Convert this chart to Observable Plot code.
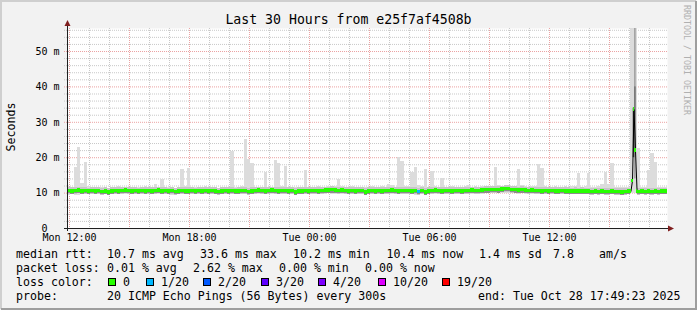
<!DOCTYPE html>
<html><head><meta charset="utf-8">
<script src="https://cdn.jsdelivr.net/npm/d3@7"></script>
<script src="https://cdn.jsdelivr.net/npm/@observablehq/plot@0.6"></script>
<style>html,body{margin:0;padding:0;background:#f2f2f2;} svg{display:block}</style>
</head><body><div id="chart"></div>
<script>
const title = "Last 30 Hours from e25f7af4508b";
const startHour = 11.9;      // Mon 11:54, hours since Mon 00:00
const endHour = 41.9;        // Tue 17:54
const stepMinutes = 10;

// median rtt (ms), one value per 10 minutes, one row per hour
const medianMs = [
  10.6,10.5,10.6,10.7,10.5,10.6,
  10.4,10.6,10.5,10.6,10.3,10.5,
  10.2,10.5,10.6,10.5,10.6,10.7,
  10.6,10.5,10.6,10.4,10.6,10.5,
  10.6,10.5,10.6,10.7,10.5,10.6,
  10.4,10.6,10.3,10.5,10.6,10.5,
  10.5,10.6,10.4,10.6,10.5,10.6,
  10.5,10.6,10.5,10.3,10.5,10.6,
  10.5,10.6,10.4,10.5,10.6,10.6,
  10.3,10.5,10.6,10.7,10.6,10.5,
  10.6,10.7,10.6,10.5,10.6,10.6,
  10.5,10.6,10.2,10.5,10.5,10.6,
  10.5,10.6,10.6,10.5,10.6,10.7,
  10.7,10.8,10.7,10.6,10.7,10.6,
  10.5,10.6,10.5,10.6,10.6,10.2,
  10.5,10.6,10.5,10.6,10.5,10.6,
  10.6,10.7,10.6,10.5,10.6,10.6,
  10.6,10.5,10.6,10.3,10.6,10.2,
  10.5,10.6,10.7,10.6,10.5,10.6,
  10.6,10.5,10.6,10.6,10.5,10.6,
  10.6,10.7,10.6,10.6,10.7,10.8,
  10.8,10.9,10.9,10.8,11.0,11.2,
  11.2,10.9,10.8,10.7,10.8,10.7,
  10.6,10.7,10.6,10.6,10.5,10.6,
  10.5,10.6,10.5,10.5,10.6,10.5,
  10.5,10.4,10.5,10.4,10.5,10.4,
  10.4,10.3,10.4,10.3,10.4,10.3,
  10.3,10.4,10.3,10.3,10.2,10.3,
  10.4,null,null,10.3,10.4,10.3,
  10.4,10.3,10.4,10.3,10.4,10.4
];
// highest ping of each 10-minute slot (ms)
const smokeMaxMs = [
  11.5,11.6,17.2,22.9,12.7,18.6,
  11.8,11.5,11.6,11.4,11.7,11.5,
  11.4,11.6,11.5,11.8,11.5,11.6,
  11.5,11.7,11.4,11.6,11.5,11.9,
  11.6,11.5,12.3,11.7,13.8,11.6,
  11.5,11.7,11.4,11.6,16.7,11.8,
  17.0,11.6,11.7,11.5,11.6,11.8,
  11.6,11.5,11.7,11.4,11.6,11.5,
  11.7,21.8,11.6,11.5,11.8,25.1,
  19.5,18.4,11.7,11.6,11.5,15.8,
  11.6,11.7,19.2,18.4,11.8,17.5,
  11.6,11.5,11.7,11.6,11.5,16.4,
  11.7,11.6,11.5,11.8,11.6,11.5,
  11.9,11.7,11.8,13.8,11.9,11.7,
  11.6,11.8,11.7,11.5,11.6,11.7,
  11.6,11.8,11.5,11.7,12.0,11.6,
  12.4,12.1,11.7,20.1,19.0,11.8,
  11.9,15.8,17.2,12.2,11.8,16.7,
  11.7,16.1,11.8,11.6,14.1,11.7,
  11.6,11.8,11.7,11.6,11.7,11.9,
  12.1,11.7,11.8,11.7,11.9,11.8,
  11.9,12.0,17.2,12.1,11.9,12.0,
  12.2,12.0,11.9,16.7,12.1,11.8,
  11.7,11.8,11.9,18.0,17.0,11.8,
  11.7,11.6,11.8,11.7,11.6,11.8,
  11.7,11.8,12.0,15.5,11.6,11.9,
  15.5,11.6,11.5,11.8,12.3,15.8,
  12.4,18.4,11.6,11.5,11.7,11.6,
  11.6,56.5,56.5,22.6,11.6,11.7,
  16.4,21.2,18.6,11.7,11.6,11.5
];
// lowest ping of each 10-minute slot (ms)
const smokeMinMs = [
  9.4,9.6,9.3,9.3,9.6,9.7,
  9.7,9.6,9.7,9.8,9.6,9.7,
  9.6,9.7,9.6,9.7,9.5,9.7,
  9.7,9.6,9.7,9.7,9.6,9.7,
  9.6,9.7,9.7,9.6,9.7,9.7,
  9.6,9.4,9.7,9.7,9.6,9.7,
  9.7,9.6,9.7,9.7,9.6,9.7,
  9.7,9.6,9.7,9.5,9.7,9.7,
  9.6,9.7,9.6,9.7,9.7,9.6,
  9.5,9.7,9.7,9.6,9.7,9.7,
  9.7,9.7,9.6,9.7,9.7,9.6,
  9.7,9.6,9.5,9.7,9.7,9.7,
  9.7,9.6,9.7,9.7,9.6,9.7,
  9.8,9.7,9.7,9.8,9.7,9.7,
  9.7,9.6,9.7,9.7,9.6,9.5,
  9.7,9.6,9.7,9.7,9.6,9.7,
  9.7,9.6,9.7,9.7,9.7,9.6,
  9.7,9.6,9.3,9.4,9.7,9.5,
  9.6,9.7,9.7,9.6,9.7,9.7,
  9.7,9.6,9.7,9.7,9.6,9.7,
  9.7,9.7,9.6,9.7,9.7,9.8,
  9.8,9.8,9.9,9.8,9.9,10.0,
  10.0,9.9,9.8,9.7,9.8,9.7,
  9.7,9.6,9.7,9.7,9.6,9.7,
  9.6,9.7,9.6,9.6,9.7,9.6,
  9.6,9.5,9.6,9.6,9.6,9.5,
  9.5,9.6,9.5,9.6,9.5,9.6,
  9.5,9.6,9.5,9.5,9.4,9.6,
  9.6,9.9,9.9,9.4,9.6,9.5,
  9.6,9.5,9.6,9.5,9.6,9.6
];
// slots with packet loss
const lossSampleIndex = [105];
const lossOf20 = [1];

// the latency spike near Tue 16:05, read at 5-minute detail
const spikeHours = [40.07, 40.15, 40.225, 40.3, 40.38];
const spikeMedianMs = [10.4, 13.5, 33.6, 22.0, 10.4];
const spikeBandStartH = [40.25, 40.185, 40.25];
const spikeBandEndH = [40.335, 40.265, 40.335];
const spikeBandLoMs = [14, 20, 22];
const spikeBandHiMs = [56.5, 34, 40];
const spikeBandLevel = [1, 3, 2];

const xTickHours = [12, 18, 24, 30, 36];
const xTickLabels = ["Mon 12:00", "Mon 18:00", "Tue 00:00", "Tue 06:00", "Tue 12:00"];
const yTickValues = [0, 10, 20, 30, 40, 50];
const yTickLabels = ["0\u00a0\u00a0", "10 m", "20 m", "30 m", "40 m", "50 m"];

const lossLabels = ["0", "1/20", "2/20", "3/20", "4/20", "10/20", "19/20"];
const lossColors = ["#26ff00", "#00b8ff", "#0059ff", "#5e00ff", "#7e00ff", "#dd00ff", "#ff0000"];
const rttStats = ["10.7 ms avg", "33.6 ms max", "10.2 ms min", "10.4 ms now", "1.4 ms sd", "7.8", "am/s"];
const lossStats = ["0.01 % avg", "2.62 % max", "0.00 % min", "0.00 % now"];
const probeText = "20 ICMP Echo Pings (56 Bytes) every 300s";
const endText = "end: Tue Oct 28 17:49:23 2025";
const watermark = "RRDTOOL / TOBI OETIKER";

// ---- build tables ----
const toHour = i => startHour + (i + 0.5) * stepMinutes / 60;
const halfStep = stepMinutes / 120;
const lossAt = new Map(lossSampleIndex.map((idx, k) => [idx, lossOf20[k]]));
const lossColorOf = n => lossColors[lossLabels.indexOf(n === 0 ? "0" : `${n}/20`)];
const baseMedian = medianMs.map((m, i) => ({h: toHour(i), m, half: halfStep, loss: lossAt.get(i) ?? 0}))
  .filter(d => d.m != null);
const medianSeries = baseMedian
  .concat(spikeHours.map((h, k) => ({h, m: spikeMedianMs[k], half: 1 / 24, loss: 0})))
  .sort((a, b) => a.h - b.h);
const smoke = smokeMaxMs.map((hi, i) => ({h: toHour(i), lo: smokeMinMs[i], hi}));
const bands = spikeBandStartH.map((s, k) => ({s, e: spikeBandEndH[k], lo: spikeBandLoMs[k], hi: spikeBandHiMs[k], level: spikeBandLevel[k]}));
const bandShade = {1: "#a4a4a4", 2: "#7a7a7a", 3: "#4a4a4a"};

const yMinor = d3.range(2, 57, 2).filter(v => v % 10 !== 0);
const yMajor = [10, 20, 30, 40, 50];
const xMinor = d3.range(12, 42, 1).filter(v => v % 3 !== 0);
const xMajor = d3.range(12, 42, 3);

const chart = Plot.plot({
  width: 697, height: 310,
  marginLeft: 67, marginRight: 30, marginTop: 28, marginBottom: 82,
  x: {type: "linear", domain: [startHour, endHour], axis: null},
  y: {type: "linear", domain: [0, 56.5], axis: null},
  style: {background: "#f2f2f2", fontFamily: "'DejaVu Sans Mono', monospace", fontSize: "10px", color: "black"},
  marks: [
    Plot.frame({fill: "white", stroke: "none"}),
    Plot.ruleY(yMinor, {x1: startHour - 0.15, x2: endHour, stroke: "#c8c8c8", strokeDasharray: "1,1"}),
    Plot.ruleX(xMinor, {stroke: "#c8c8c8", strokeDasharray: "1,1"}),
    Plot.ruleY(yMajor, {x1: startHour - 0.15, x2: endHour, stroke: "#eba3a3", strokeDasharray: "1,1"}),
    Plot.ruleX(xMajor, {stroke: "#eba3a3", strokeDasharray: "1,1"}),
    Plot.rect(smoke, {x1: d => d.h - halfStep, x2: d => d.h + halfStep, y1: "lo", y2: "hi", fill: "#dcdcdc", inset: 0, shapeRendering: "crispEdges"}),
    Plot.rect(baseMedian, {x1: d => d.h - d.half, x2: d => d.h + d.half, y1: d => d.m - 0.9, y2: d => d.m + 1.0, fill: "#c6c6c6", inset: 0, shapeRendering: "crispEdges"}),
    Plot.rect(bands, {x1: "s", x2: "e", y1: "lo", y2: "hi", fill: d => bandShade[d.level], inset: 0}),
    Plot.rect(baseMedian, {x1: d => d.h - d.half, x2: d => d.h + d.half, y1: d => d.m - 0.8, y2: d => d.m - 0.45, fill: "#8c8c8c", inset: 0, shapeRendering: "crispEdges"}),
    Plot.line(medianSeries, {x: "h", y: "m", stroke: "black", strokeWidth: 1}),
    Plot.rect(medianSeries, {x1: d => d.h - d.half, x2: d => d.h + d.half, y1: d => d.m - 0.48, y2: d => d.m + 0.48, fill: d => lossColorOf(d.loss), inset: 0, shapeRendering: "crispEdges"}),
    Plot.text(xTickHours, {x: d => d, y: 0, text: (d, i) => xTickLabels[i], dy: 9.5, fontSize: 10, fill: "black"}),
    Plot.text(yTickValues, {x: startHour, y: d => d, text: (d, i) => yTickLabels[i], textAnchor: "end", dx: -8, fontSize: 10, fill: "black"})
  ]
});
document.getElementById("chart").appendChild(chart);

// ---- frame, axes, title and legend ----
const svg = d3.select(chart);
const mono = "'DejaVu Sans Mono', monospace";
const L = 67, R = 667, T = 28, B = 228;
// 3D border
svg.append("path").attr("d", "M1,309V1H696").attr("fill", "none").attr("stroke", "#cfcfcf").attr("stroke-width", 2);
svg.append("path").attr("d", "M1,309H696V1").attr("fill", "none").attr("stroke", "#9e9e9e").attr("stroke-width", 2);
// axes
svg.append("line").attr("x1", L - 3).attr("x2", R + 2).attr("y1", B + 0.5).attr("y2", B + 0.5).attr("stroke", "#1f1f1f");
svg.append("line").attr("x1", L + 0.5).attr("x2", L + 0.5).attr("y1", B + 3).attr("y2", T - 3).attr("stroke", "#1f1f1f");
svg.append("path").attr("d", `M${L - 2.5},${T - 2}L${L + 3.5},${T - 2}L${L + 0.5},${T - 8}Z`).attr("fill", "#801f1f");
svg.append("path").attr("d", `M${R + 1},${B - 2.5}L${R + 1},${B + 3.5}L${R + 7},${B + 0.5}Z`).attr("fill", "#801f1f");
// title
svg.append("text").attr("x", 348.5).attr("y", 24).attr("text-anchor", "middle")
  .style("font-family", mono).style("font-size", "13.2px").attr("fill", "black").text(title);
// y label
svg.append("text").attr("transform", "translate(15,127) rotate(-90)").attr("text-anchor", "middle")
  .style("font-family", mono).style("font-size", "11.6px").attr("fill", "black").text("Seconds");
// watermark
svg.append("text").attr("transform", "translate(684,5) rotate(90)").attr("text-anchor", "start")
  .style("font-family", mono).style("font-size", "8.3px").attr("fill", "#b0b0b0").text(watermark);

const lg = svg.append("g").attr("text-anchor", "start")
  .style("font-family", mono).style("font-size", "11.6px").attr("fill", "black");
const put = (x, y, s) => lg.append("text").attr("x", x).attr("y", y).attr("text-anchor", "start").text(s);
const rows = [257.5, 271.5, 285.5, 299.5];
put(16, rows[0], "median rtt:");
[107, 200, 293, 386.5, 479, 553, 599].forEach((x, k) => put(x, rows[0], rttStats[k]));
put(16, rows[1], "packet loss:");
[107, 193, 279, 365].forEach((x, k) => put(x, rows[1], lossStats[k]));
put(16, rows[2], "loss color:");
const boxX = [108, 146, 203, 261, 318, 378, 442];
lossLabels.forEach((lab, k) => {
  lg.append("rect").attr("x", boxX[k] + 0.5).attr("y", 278.5).attr("width", 7).attr("height", 7)
    .attr("fill", lossColors[k]).attr("stroke", "black").attr("stroke-width", 1);
  put(boxX[k] + 15, rows[2], lab);
});
put(16, rows[3], "probe:");
put(107, rows[3], probeText);
put(478, rows[3], endText);
</script>
</body></html>
